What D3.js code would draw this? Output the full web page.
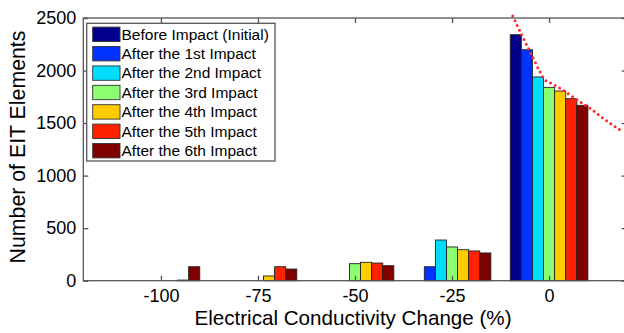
<!DOCTYPE html>
<html>
<head>
<meta charset="utf-8">
<script src="https://cdn.jsdelivr.net/npm/d3@7"></script>
<style>
  html, body { margin: 0; padding: 0; background: #fff; }
  svg { display: block; font-family: "Liberation Sans", Arial, Helvetica, sans-serif; }
</style>
</head>
<body>
<svg id="chart" width="624" height="333"></svg>
<script>
// Histogram of EIT element conductivity change after repeated impacts
const bins = [-100, -75, -50, -25, 0];
const seriesNames = [
  "Before Impact (Initial)",
  "After the 1st Impact",
  "After the 2nd Impact",
  "After the 3rd Impact",
  "After the 4th Impact",
  "After the 5th Impact",
  "After the 6th Impact"
];
const seriesColors = ["#00008c", "#0033ff", "#00ddff", "#8cff70", "#ffcc00", "#ff2200", "#800000"];
const initialCounts = [0, 0, 0, 0, 2341];
const impact1Counts = [0, 0, 0, 133, 2198];
const impact2Counts = [0, 0, 0, 387, 1939];
const impact3Counts = [0, 0, 162, 321, 1840];
const impact4Counts = [0, 45, 175, 295, 1805];
const impact5Counts = [6, 133, 168, 283, 1732];
const impact6Counts = [133, 111, 143, 264, 1669];
const seriesCounts = [initialCounts, impact1Counts, impact2Counts, impact3Counts,
                      impact4Counts, impact5Counts, impact6Counts];
// Trend of the unchanged-element count (dotted red curve)
const trendX = [-9.35, -7.03, -4.46, -2.32, -1.03, 0.26, 2.83, 5.41, 7.98, 10.56, 13.13, 15.71, 18.28];
const trendY = [2519, 2338, 2148, 1986, 1910, 1884, 1831, 1767, 1703, 1641, 1568, 1498, 1434];
const xTicks = [-100, -75, -50, -25, 0];
const yTicks = [0, 500, 1000, 1500, 2000, 2500];

const svg = d3.select("#chart");
const m = { left: 83.3, right: 626.7, top: 18, bottom: 280.7 };

const x = d3.scaleLinear().domain([-120, 20]).range([m.left, m.right]);
const y = d3.scaleLinear().domain([0, 2500]).range([m.bottom, m.top]);

// grouped bars: group spans 0.8 of the bin spacing
const groupWidth = 0.8 * 25;
const barW = groupWidth / seriesNames.length;

const plot = svg.append("g");
seriesCounts.forEach((vals, s) => {
  plot.selectAll(null)
    .data(vals.map((v, i) => ({ v, c: bins[i] })).filter(d => d.v > 0))
    .join("rect")
    .attr("x", d => x(d.c - groupWidth / 2 + s * barW))
    .attr("width", x(barW) - x(0))
    .attr("y", d => y(d.v))
    .attr("height", d => y(0) - y(d.v))
    .attr("fill", seriesColors[s])
    .attr("stroke", "#222")
    .attr("stroke-width", 0.9);
});

// dotted trend curve
const line = d3.line().x((d, i) => x(trendX[i])).y(d => y(d)).curve(d3.curveMonotoneX);
svg.append("path")
  .attr("d", line(trendY))
  .attr("fill", "none")
  .attr("stroke", "#ff2a2a")
  .attr("stroke-width", 3)
  .attr("stroke-linecap", "round")
  .attr("stroke-dasharray", "0 5.2");

// axes box with inward ticks on all sides
const axisColor = "#555";
const tickLen = 5;
const plainNum = d => String(d);
const axes = svg.append("g");
axes.append("rect")
  .attr("x", m.left).attr("y", m.top)
  .attr("width", m.right - m.left).attr("height", m.bottom - m.top)
  .attr("fill", "none").attr("stroke", axisColor).attr("stroke-width", 1.3);

const bottomAxis = d3.axisBottom(x).tickValues(xTicks).tickFormat(plainNum)
  .tickSizeInner(-tickLen).tickSizeOuter(0).tickPadding(8.5);
const topAxis = d3.axisTop(x).tickValues(xTicks).tickSizeInner(-tickLen).tickSizeOuter(0).tickFormat("");
const leftAxis = d3.axisLeft(y).tickValues(yTicks).tickFormat(plainNum)
  .tickSizeInner(-tickLen).tickSizeOuter(0).tickPadding(7);
const rightAxis = d3.axisRight(y).tickValues(yTicks).tickSizeInner(-tickLen).tickSizeOuter(0).tickFormat("");

function styleAxis(g) {
  g.select(".domain").remove();
  g.selectAll(".tick line").attr("stroke", axisColor).attr("stroke-width", 1.3);
  g.selectAll(".tick text")
    .attr("fill", "#000")
    .style("font-size", "18px")
    .style("font-family", "'Liberation Sans', Arial, sans-serif");
}
axes.append("g").attr("transform", `translate(0,${m.bottom})`).call(bottomAxis).call(styleAxis);
axes.append("g").attr("transform", `translate(0,${m.top})`).call(topAxis).call(styleAxis);
axes.append("g").attr("transform", `translate(${m.left},0)`).call(leftAxis).call(styleAxis);
axes.append("g").attr("transform", `translate(${m.right},0)`).call(rightAxis).call(styleAxis);

// axis titles
svg.append("text")
  .attr("x", 353).attr("y", 325)
  .attr("text-anchor", "middle")
  .style("font-size", "20.6px")
  .text("Electrical Conductivity Change (%)");
svg.append("text")
  .attr("transform", "translate(24.5,147) rotate(-90)")
  .attr("text-anchor", "middle")
  .style("font-size", "21.3px")
  .text("Number of EIT Elements");

// legend
const lg = svg.append("g");
lg.append("rect")
  .attr("x", 86.7).attr("y", 23.3).attr("width", 188.3).attr("height", 137.7)
  .attr("fill", "#fff").attr("stroke", "#555").attr("stroke-width", 1.3);
seriesNames.forEach((name, i) => {
  const cy = 34.3 + i * 19.4;
  lg.append("rect")
    .attr("x", 92.7).attr("y", cy - 7.2).attr("width", 27.3).attr("height", 14.4)
    .attr("fill", seriesColors[i]).attr("stroke", "#333").attr("stroke-width", 0.9);
  lg.append("text")
    .attr("x", 121.5).attr("y", cy + 5.2)
    .style("font-size", "15.5px")
    .text(name);
});
</script>
</body>
</html>
